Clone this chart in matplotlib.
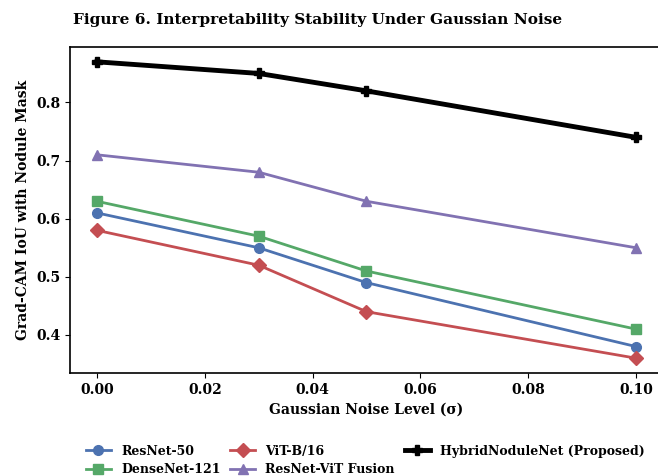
import matplotlib.pyplot as plt

noise = [0.0, 0.03, 0.05, 0.10]
resnet50 = [0.61, 0.55, 0.49, 0.38]
densenet121 = [0.63, 0.57, 0.51, 0.41]
vit_b16 = [0.58, 0.52, 0.44, 0.36]
fusion = [0.71, 0.68, 0.63, 0.55]
hybrid = [0.87, 0.85, 0.82, 0.74]

plt.rcParams['font.family'] = 'DejaVu Serif'
plt.rcParams['font.weight'] = 'bold'

fig = plt.figure(figsize=(6.58, 4.76), dpi=100)
ax = fig.add_axes([70 / 658, 1 - 373 / 476, 593 / 658, 326 / 476])

ax.plot(noise, resnet50, color='#4C72B0', marker='o', lw=2, ms=7, label='ResNet-50')
ax.plot(noise, densenet121, color='#55A868', marker='s', lw=2, ms=7, label='DenseNet-121')
ax.plot(noise, vit_b16, color='#C44E52', marker='D', lw=2, ms=7, label='ViT-B/16')
ax.plot(noise, fusion, color='#8172B2', marker='^', lw=2, ms=7, label='ResNet-ViT Fusion')
ax.plot(noise, hybrid, color='black', marker='P', lw=3.5, ms=7, label='HybridNoduleNet (Proposed)')

ax.set_xlabel('Gaussian Noise Level (σ)', fontsize=10, fontweight='bold')
ax.set_ylabel('Grad-CAM IoU with Nodule Mask', fontsize=10, fontweight='bold')
ax.tick_params(labelsize=10)
for s in ax.spines.values():
    s.set_linewidth(1.2)

fig.text(73 / 658, 1 - 20 / 476, 'Figure 6. Interpretability Stability Under Gaussian Noise',
         fontsize=11.1, fontweight='bold', va='center')

ax.legend(loc='upper center', bbox_to_anchor=(0.498, -0.185), ncol=3, frameon=False,
          fontsize=9, handlelength=2, columnspacing=0.8, labelspacing=0.45)

fig.savefig('out.png', dpi=100)
